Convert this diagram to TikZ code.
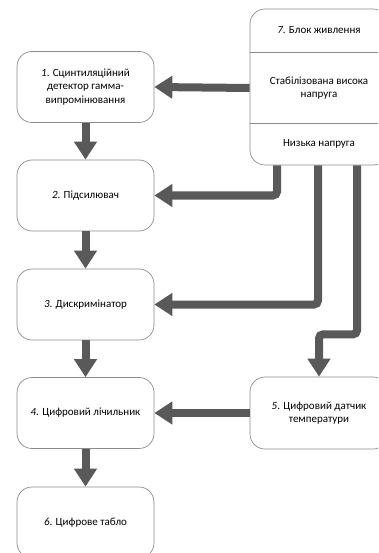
\documentclass[tikz,border=0pt]{standalone}
\usepackage{fontspec}
\setmainfont{Carlito}
\usetikzlibrary{arrows.meta}
\definecolor{arrowgray}{HTML}{595959}
\definecolor{boxgray}{HTML}{8C8C8C}
\begin{document}
\begin{tikzpicture}[x=1pt,y=-1pt]
\tikzstyle{block}=[draw=boxgray,line width=0.7pt,rounded corners=15pt,minimum width=137pt,minimum height=71pt,align=center,font=\fontsize{11}{13.5}\selectfont]
\tikzstyle{label}=[align=center,font=\fontsize{11}{13.5}\selectfont]
\tikzstyle{flow}=[draw=arrowgray,line width=8pt,rounded corners=4pt,-{Triangle[width=22pt,length=18pt]}]
\useasboundingbox (0,0) rectangle (378,553);
\clip (0,0) rectangle (378,553);
% left column
\node (b1)[block] at (85.5,87) {\textit{1}. Сцинтиляційний\\детектор гамма-\\випромінювання};
\node (b2)[block] at (85.5,195.5) {\textit{2}. Підсилювач};
\node (b3)[block] at (85.5,304.5) {\textit{3}. Дискримінатор};
\node (b4)[block] at (85.5,413) {\textit{4}. Цифровий лічильник};
\node (b6)[block] at (85.5,522.5) {\textit{6}. Цифрове табло};
% right column
\node (b7)[block,minimum width=138pt,minimum height=156pt] at (319,87) {};
\draw[boxgray,line width=0.7pt] (250,52) -- (388,52);
\draw[boxgray,line width=0.7pt] (250,123) -- (388,123);
\node (t7)[label] at (319,30) {\textit{7}. Блок живлення};
\node (hv)[label] at (319,88) {Стабілізована висока\\напруга};
\node (lv)[label] at (319,144) {Низька напруга};
\node (b5)[block,minimum width=138pt,minimum height=72pt] at (319,413) {\textit{5}. Цифровий датчик\\температури};
% connections
\draw[flow] (b1.south) -- (b2.north);
\draw[flow] (b2.south) -- (b3.north);
\draw[flow] (b3.south) -- (b4.north);
\draw[flow] (b4.south) -- (b6.north);
\draw[flow] (b7.west |- hv) -- (b1.east);
\draw[flow] ([xshift=-42pt]b7.south) |- (b2.east);
\draw[flow] ([xshift=-1pt]b7.south) |- (b3.east);
\draw[flow] ([xshift=38pt]b7.south) -- ++(0,169) -| (b5.north);
\draw[flow] (b5.west) -- (b4.east);
\end{tikzpicture}
\end{document}
